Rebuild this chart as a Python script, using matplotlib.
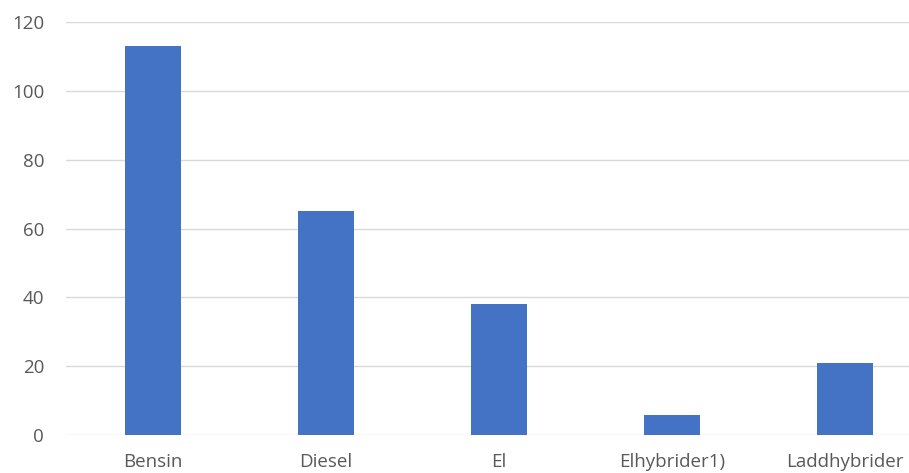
import matplotlib.pyplot as plt

categories = ['Bensin', 'Diesel', 'El', 'Elhybrider1)', 'Laddhybrider']
values = [113, 65, 38, 6, 21]
yticks = [0, 20, 40, 60, 80, 100, 120]

plt.rcParams['font.family'] = ['Open Sans', 'DejaVu Sans']

fig = plt.figure(figsize=(9.09, 4.73), dpi=100)
ax = fig.add_axes([0.073, 0.080, 0.927, 0.8735])

ax.bar(range(len(categories)), values, width=0.32, color='#4472C4', zorder=3)

ax.set_ylim(0, 120)
ax.set_xlim(-0.5, 4.37)
ax.set_yticks(yticks)
ax.set_xticks(range(len(categories)))
ax.set_xticklabels(categories)
ax.grid(axis='y', color='#d9d9d9', linewidth=1, zorder=0)
ax.tick_params(axis='both', length=0, labelsize=13.5, labelcolor='#595959')
ax.tick_params(axis='y', pad=16)
ax.tick_params(axis='x', pad=13)
for s in ax.spines.values():
    s.set_visible(False)

fig.savefig('out.png', dpi=100)
